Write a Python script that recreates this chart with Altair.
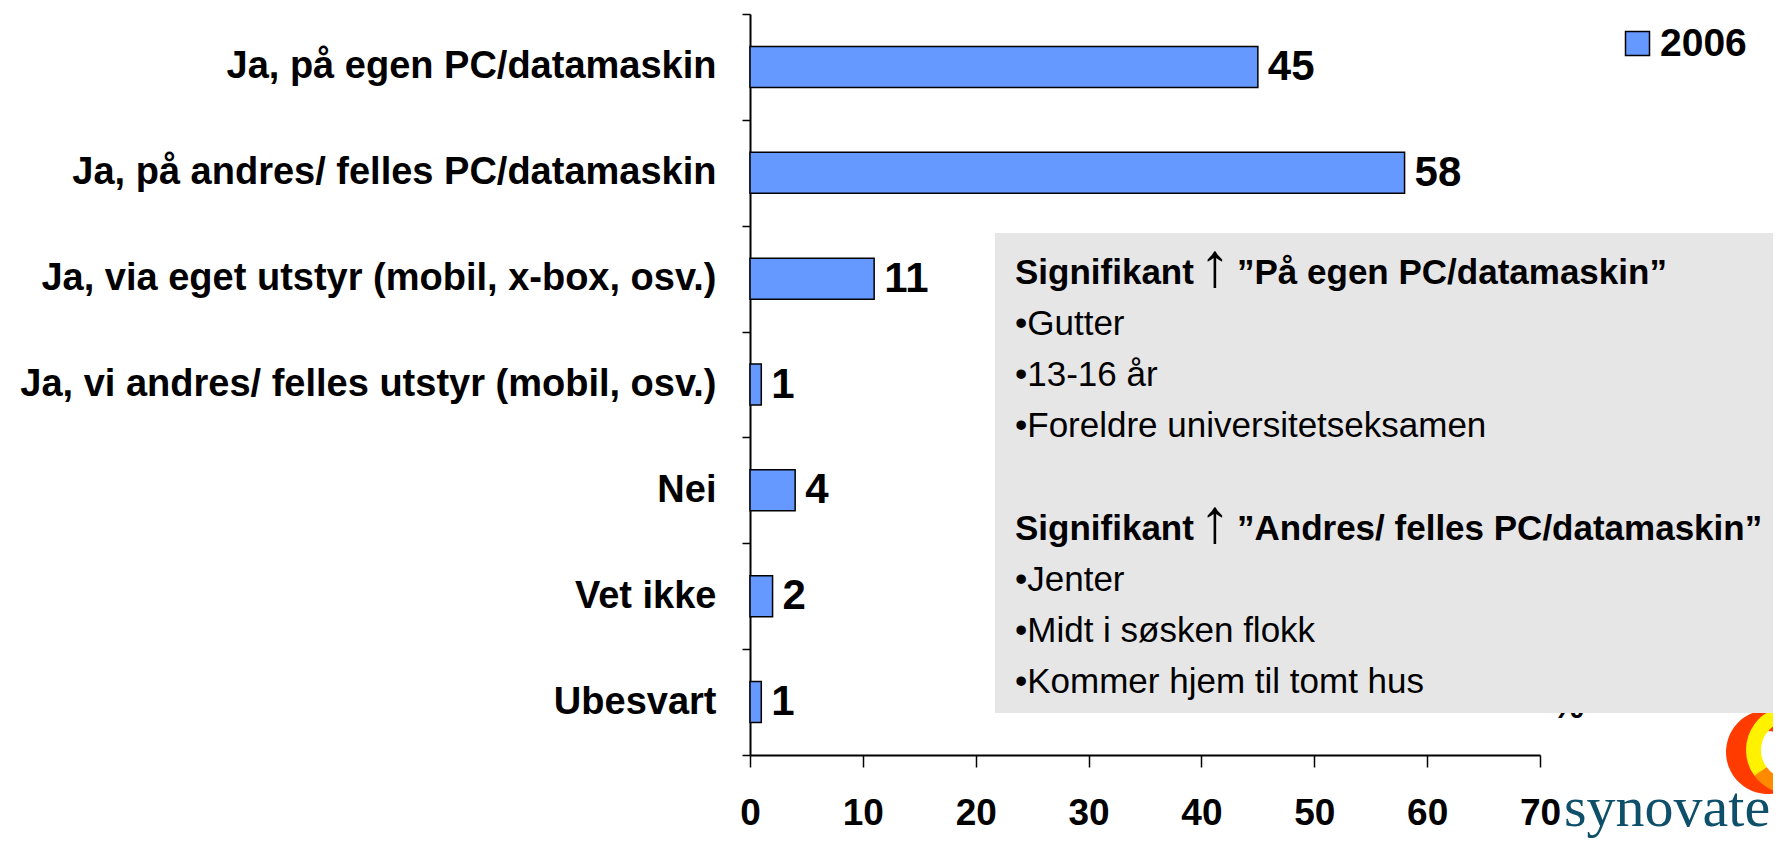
import math
import altair as alt
import pandas as pd

# ---------------- data ----------------
categories = [
    "Ja, på egen PC/datamaskin",
    "Ja, på andres/ felles PC/datamaskin",
    "Ja, via eget utstyr (mobil, x-box, osv.)",
    "Ja, vi andres/ felles utstyr (mobil, osv.)",
    "Nei",
    "Vet ikke",
    "Ubesvart",
]
values = [45, 58, 11, 1, 4, 2, 1]
series_name = "2006"
x_ticks = [0, 10, 20, 30, 40, 50, 60, 70]

note_word = "Signifikant"
note_arrow = "\u2191"
note1_subject = "\u201dPå egen PC/datamaskin\u201d"
note1_items = ["\u2022Gutter", "\u202213-16 år", "\u2022Foreldre universitetseksamen"]
note2_subject = "\u201dAndres/ felles PC/datamaskin\u201d"
note2_items = ["\u2022Jenter", "\u2022Midt i søsken flokk", "\u2022Kommer hjem til tomt hus"]
unit_label = "%"
logo_text = "synovate"

df = pd.DataFrame({"category": categories, "value": values, "year": [series_name] * len(values)})
one = pd.DataFrame({"k": [0]})

FONT = "Liberation Sans, Arial, sans-serif"
BAR = "#6699FF"

base = alt.Chart(df)

bars = base.mark_bar(stroke="black", strokeWidth=1.5, height={"band": 0.387}).encode(
    x=alt.X(
        "value:Q",
        scale=alt.Scale(domain=[0, 70], nice=False, zero=True),
        axis=alt.Axis(
            values=x_ticks, title=None, grid=False, tickSize=12, labelPadding=28,
            labelFontSize=37, labelFont=FONT, labelFontWeight="bold", labelColor="black",
            labelFlush=False, domainColor="black", domainWidth=2, tickColor="black",
            tickWidth=1.5, labelOverlap=False,
        ),
    ),
    y=alt.Y(
        "category:N",
        sort=categories,
        scale=alt.Scale(paddingInner=0, paddingOuter=0),
        axis=alt.Axis(
            title=None, tickBand="extent", tickSize=8, labelPadding=26,
            labelFontSize=38, labelFont=FONT, labelFontWeight="bold", labelColor="black",
            labelLimit=1000, domainColor="black", domainWidth=2, tickColor="black",
            tickWidth=1.5,
        ),
    ),
    color=alt.Color(
        "year:N",
        scale=alt.Scale(range=[BAR]),
        legend=alt.Legend(
            title=None, orient="none", legendX=868, legendY=10, padding=0,
            symbolType="square", symbolSize=576, symbolStrokeColor="black",
            symbolStrokeWidth=1.5, symbolFillColor=BAR, labelFont=FONT,
            labelFontSize=39, labelFontWeight="bold", labelColor="black",
            labelOffset=3,
        ),
    ),
)

value_labels = base.mark_text(
    align="left", baseline="middle", dx=10, font=FONT, fontSize=42,
    fontWeight="bold", color="black",
).encode(
    x=alt.X("value:Q"),
    y=alt.Y("category:N", sort=categories),
    text=alt.Text("value:Q"),
)

# partially hidden unit label below the note box
unit = alt.Chart(one).mark_text(
    text=unit_label, align="center", baseline="alphabetic", font=FONT,
    fontSize=36, fontWeight="bold", color="black",
).encode(x=alt.value(818), y=alt.value(704))

# logo rings
ring_red = alt.Chart(one).mark_arc(
    theta=math.pi * 0.95, theta2=math.pi * 2.1, radius=42, radius2=21, color="#FF3B00"
).encode(x=alt.value(1018), y=alt.value(738))
ring_yellow = alt.Chart(one).mark_arc(
    theta=math.pi * 1.3, theta2=math.pi * 2.1, radius=44, radius2=29, color="#FFF200"
).encode(x=alt.value(1040), y=alt.value(736))
ring_orange = alt.Chart(one).mark_arc(
    theta=math.pi * 0.95, theta2=math.pi * 1.3, radius=44, radius2=29, color="#FF8A00"
).encode(x=alt.value(1040), y=alt.value(736))

logo = alt.Chart(one).mark_text(
    text=logo_text, align="left", baseline="alphabetic",
    font="Liberation Serif, Times New Roman, serif", fontSize=58, color="#0E4F6A",
).encode(x=alt.value(814), y=alt.value(812))

# note box
NOTE_SIZE = 35
box = alt.Chart(one).mark_rect(color="#E6E6E6").encode(
    x=alt.value(245), x2=alt.value(1040), y=alt.value(219), y2=alt.value(699)
)


def title_layers(y_base, subject):
    word = alt.Chart(one).mark_text(
        text=note_word, align="left", baseline="alphabetic", font=FONT,
        fontSize=NOTE_SIZE, fontWeight="bold", color="black",
    ).encode(x=alt.value(265), y=alt.value(y_base))
    arrow = alt.Chart(one).mark_text(
        text=note_arrow, align="center", baseline="alphabetic", font=FONT,
        fontSize=62, color="black",
    ).encode(x=alt.value(465), y=alt.value(y_base + 2))
    subj = alt.Chart(one).mark_text(
        text=subject, align="left", baseline="alphabetic", font=FONT,
        fontSize=NOTE_SIZE, fontWeight="bold", color="black",
    ).encode(x=alt.value(487), y=alt.value(y_base))
    return [word, arrow, subj]


i1 = alt.Chart(one).mark_text(
    text=note1_items, align="left", baseline="alphabetic", font=FONT,
    fontSize=NOTE_SIZE, lineHeight=51.2, color="black",
).encode(x=alt.value(265), y=alt.value(321))
i2 = alt.Chart(one).mark_text(
    text=note2_items, align="left", baseline="alphabetic", font=FONT,
    fontSize=NOTE_SIZE, lineHeight=51.2, color="black",
).encode(x=alt.value(265), y=alt.value(577))

layers = [bars, value_labels, unit, ring_red, ring_orange, ring_yellow, logo, box]
layers += title_layers(270, note1_subject) + [i1]
layers += title_layers(526, note2_subject) + [i2]

chart = (
    alt.layer(*layers)
    .properties(
        width=790,
        height=741,
        padding={"left": 742, "top": 6, "right": 233, "bottom": 85},
        autosize=alt.AutoSizeParams(type="none"),
        background="white",
    )
    .configure_view(stroke=None)
)

chart.save("out.html", embed_options={"renderer": "svg", "actions": False})
